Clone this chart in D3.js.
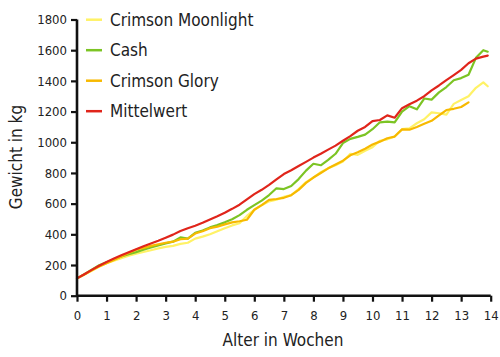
<!DOCTYPE html>
<html><head><meta charset="utf-8">
<script src="https://cdn.jsdelivr.net/npm/d3@7/dist/d3.min.js"></script>
<style>
body{margin:0;background:#fff;}
text{font-family:"Comic Sans MS","DejaVu Sans Condensed","DejaVu Sans",sans-serif;fill:#222;}
</style></head><body>
<svg id="c" width="500" height="357"></svg>
<script>
const weeks = [0,0.25,0.5,0.75,1,1.25,1.5,1.75,2,2.25,2.5,2.75,3,3.25,3.5,3.75,4,4.25,4.5,4.75,5,5.25,5.5,5.75,6,6.25,6.5,6.75,7,7.25,7.5,7.75,8,8.25,8.5,8.75,9,9.25,9.5,9.75,10,10.25,10.5,10.75,11,11.25,11.5,11.75,12,12.25,12.5,12.75,13,13.25,13.5,13.75,13.9];
const crimsonMoonlight = [113,138,163,190,212,228,245,260,274,285,296,308,318,325,338,345,372,385,400,420,440,458,472,520,560,590,615,625,645,655,695,740,770,805,830,850,875,925,918,945,968,1010,1019,1037,1085,1091,1124,1150,1195,1189,1180,1250,1275,1300,1355,1390,1365];
const cash = [113,140,170,198,218,238,255,270,284,300,315,328,341,352,380,372,410,425,445,460,478,498,525,560,590,620,656,700,695,715,760,815,860,850,885,925,995,1022,1035,1050,1085,1130,1135,1130,1200,1235,1215,1285,1278,1325,1360,1404,1418,1440,1550,1600,1590];
const crimsonGlory = [113,138,165,190,211,232,255,278,300,312,325,335,345,352,368,372,405,420,440,450,465,478,485,495,560,590,624,630,638,655,690,735,770,800,830,855,880,915,935,958,985,1004,1026,1037,1084,1082,1100,1120,1140,1175,1210,1218,1230,1260,null,null,null];
const mittelwert = [113,140,168,195,220,242,263,283,303,322,340,358,378,398,422,440,456,475,497,518,541,566,593,628,662,690,722,758,793,818,845,872,900,925,952,978,1010,1040,1075,1100,1138,1145,1175,1160,1222,1248,1271,1300,1338,1370,1405,1438,1472,1515,1545,1558,1565];
const seriesNames = ["Crimson Moonlight","Cash","Crimson Glory","Mittelwert"];
const seriesColors = ["#fff266","#7cc424","#f7b900","#e0251b"];
const xTicks = [0,1,2,3,4,5,6,7,8,9,10,11,12,13,14];
const yTicks = [0,200,400,600,800,1000,1200,1400,1600,1800];

const allSeries = [crimsonMoonlight, cash, crimsonGlory, mittelwert];
const svg = d3.select("#c");
const m = {l:77, r:10, t:19.5, b:61};
const W = 500, H = 357;
const x = d3.scaleLinear().domain([0,14]).range([m.l, 490.7]);
const y = d3.scaleLinear().domain([0,1800]).range([295.7, m.t]);

const line = d3.line().defined(d=>d[1]!=null).x(d=>x(d[0])).y(d=>y(d[1]));
allSeries.forEach((s,i)=>{
  svg.append("path").datum(weeks.map((w,j)=>[w,s[j]]))
    .attr("d", line).attr("fill","none").attr("stroke", seriesColors[i])
    .attr("stroke-width",2.2).attr("stroke-linejoin","round").attr("stroke-linecap","round");
});

const xa = svg.append("g").attr("transform",`translate(0,${y(0)})`)
  .call(d3.axisBottom(x).tickValues(xTicks).tickSize(6).tickPadding(9).tickFormat(d3.format("d")));
const ya = svg.append("g").attr("transform",`translate(${x(0)},0)`)
  .call(d3.axisLeft(y).tickValues(yTicks).tickSize(6).tickPadding(4).tickFormat(d3.format("d")));
[xa,ya].forEach(a=>{
  a.select(".domain").attr("stroke","#111").attr("stroke-width",2.6);
  a.selectAll(".tick line").attr("stroke","#111").attr("stroke-width",2.2);
  a.selectAll(".tick text").attr("font-size",13).attr("fill","#222")
   .style("font-family",'"DejaVu Sans Condensed",sans-serif');
});
xa.select(".domain").attr("d",`M${x(0)},0H${x(14)}`);
ya.select(".domain").attr("d",`M0,${y(1800)}V${y(0)}`);

svg.append("text").attr("x",283).attr("y",346).attr("text-anchor","middle")
  .attr("font-size",17).text("Alter in Wochen");
svg.append("text").attr("transform",`translate(22,157) rotate(-90)`).attr("text-anchor","middle")
  .attr("font-size",17).text("Gewicht in kg");

const lg = svg.append("g");
seriesNames.forEach((n,i)=>{
  const yy = 19.7 + i*30.5;
  lg.append("line").attr("x1",86).attr("x2",102).attr("y1",yy).attr("y2",yy)
    .attr("stroke",seriesColors[i]).attr("stroke-width",2.5);
  lg.append("text").attr("x",110).attr("y",yy+6).attr("font-size",17).text(n);
});
</script></body></html>
